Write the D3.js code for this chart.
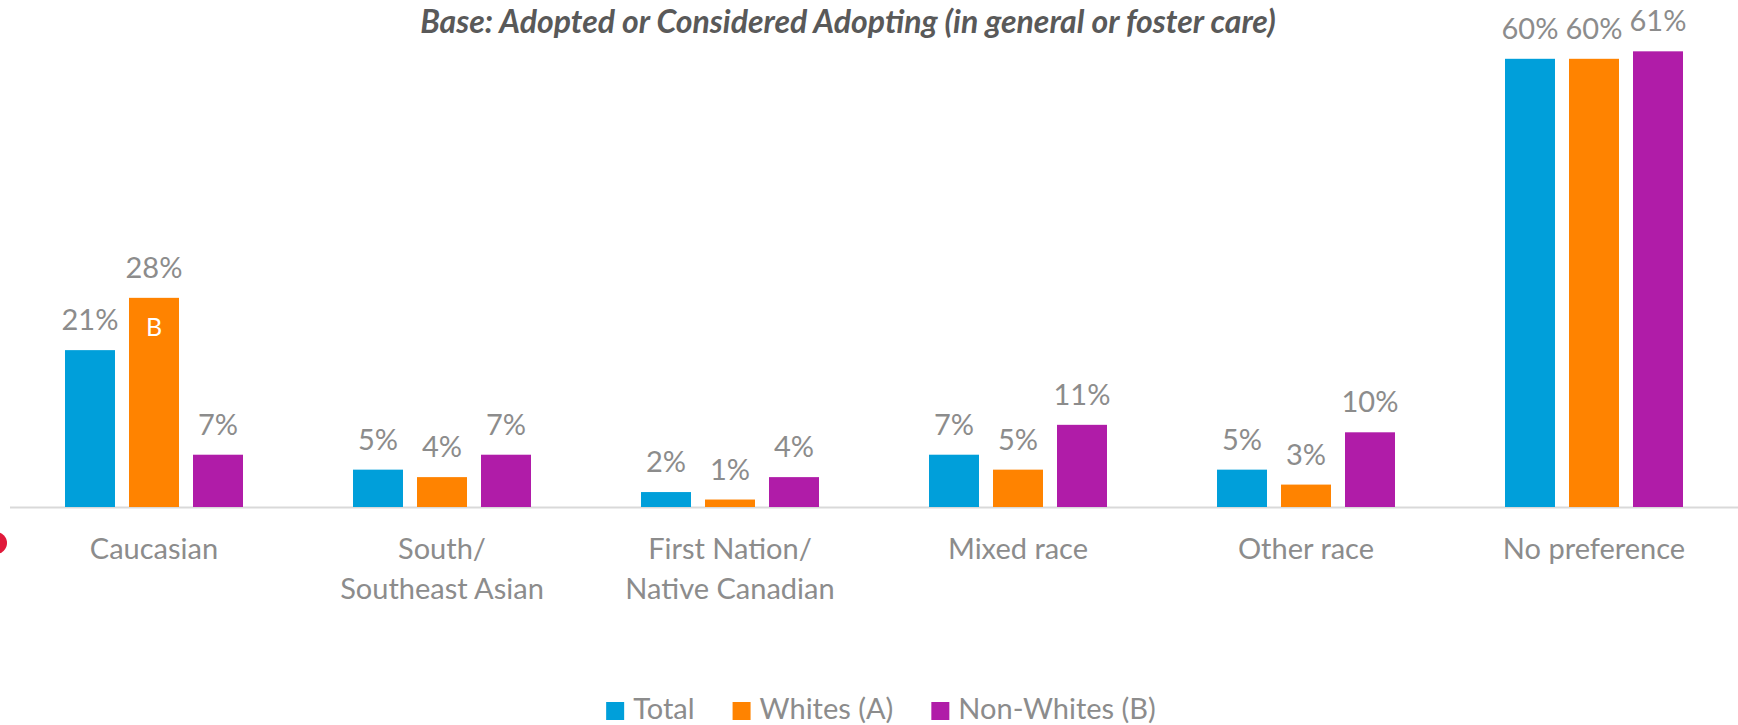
<!DOCTYPE html>
<html>
<head>
<meta charset="utf-8">
<script src="https://cdn.jsdelivr.net/npm/d3@7"></script>
<style>
  html, body { margin: 0; padding: 0; background: #fff; }
  svg { display: block; }
</style>
</head>
<body>
<svg id="chart" width="1738" height="725"></svg>
<script>
const categories = [["Caucasian"], ["South/", "Southeast Asian"], ["First Nation/", "Native Canadian"], ["Mixed race"], ["Other race"], ["No preference"]];
const seriesNames = ["Total", "Whites (A)", "Non-Whites (B)"];
const totalValues = [21, 5, 2, 7, 5, 60];
const whitesValues = [28, 4, 1, 5, 3, 60];
const nonWhitesValues = [7, 7, 4, 11, 10, 61];
const sigLetters = [["", "B", ""], ["", "", ""], ["", "", ""], ["", "", ""], ["", "", ""], ["", "", ""]];
const title = "Base: Adopted or Considered Adopting (in general or foster care)";
const colors = ["#009fda", "#ff8300", "#b01ca8"];

const seriesValues = [totalValues, whitesValues, nonWhitesValues];
const catKeys = categories.map(c => c.join(" "));

const svg = d3.select("#chart");
const baseY = 507;
const font = "Lato, 'Open Sans', sans-serif";
const gray = "#8c8c8c";

const x0 = d3.scaleBand().domain(catKeys).range([10, 1738]).paddingInner(0.382).paddingOuter(0.191);
const x1 = d3.scaleBand().domain(seriesNames).range([0, x0.bandwidth()]).paddingInner(0.219).paddingOuter(0);
const y = d3.scaleLinear().domain([0, 100]).range([baseY, baseY - 747]);

// decorative red dot at left edge
svg.append("circle").attr("cx", -4).attr("cy", 543).attr("r", 11).attr("fill", "#e0193a");

// title
svg.append("text")
  .attr("x", 848).attr("y", 33)
  .attr("text-anchor", "middle")
  .attr("font-family", font)
  .attr("font-weight", "bold")
  .attr("font-style", "italic")
  .attr("font-size", 32)
  .attr("fill", "#595959")
  .text(title);

// axis line
svg.append("line")
  .attr("x1", 10).attr("x2", 1738)
  .attr("y1", baseY + 0.5).attr("y2", baseY + 0.5)
  .attr("stroke", "#d9d9d9").attr("stroke-width", 2);

const groups = svg.selectAll("g.cat").data(catKeys).enter().append("g")
  .attr("class", "cat")
  .attr("transform", d => `translate(${x0(d)},0)`);

groups.each(function(cat, ci) {
  const g = d3.select(this);
  seriesNames.forEach((s, si) => {
    const v = seriesValues[si][ci];
    g.append("rect")
      .attr("x", x1(s)).attr("width", x1.bandwidth())
      .attr("y", y(v)).attr("height", baseY - y(v))
      .attr("fill", colors[si]);
    g.append("text")
      .attr("x", x1(s) + x1.bandwidth() / 2)
      .attr("y", y(v) - 20)
      .attr("text-anchor", "middle")
      .attr("font-family", font)
      .attr("font-size", 29)
      .attr("fill", gray)
      .text(v + "%");
    const sig = sigLetters[ci][si];
    if (sig) {
      g.append("text")
        .attr("x", x1(s) + x1.bandwidth() / 2)
        .attr("y", y(v) + 38)
        .attr("text-anchor", "middle")
        .attr("font-family", font)
        .attr("font-size", 25)
        .attr("fill", "#ffffff")
        .text(sig);
    }
  });
  const lines = categories[ci];
  const t = g.append("text")
    .attr("text-anchor", "middle")
    .attr("font-family", font)
    .attr("font-size", 29)
    .attr("fill", gray);
  lines.forEach((ln, li) => {
    t.append("tspan").attr("x", x0.bandwidth() / 2).attr("y", 559 + li * 40).text(ln);
  });
});

// legend
const legend = svg.append("g");
let lx = 0;
seriesNames.forEach((s, si) => {
  const item = legend.append("g").attr("transform", `translate(${lx},0)`);
  item.append("rect").attr("x", 0).attr("y", 702).attr("width", 18).attr("height", 18).attr("fill", colors[si]);
  const tx = item.append("text").attr("x", 27).attr("y", 719)
    .attr("font-family", font).attr("font-size", 29).attr("fill", gray).text(s);
  lx += 27 + tx.node().getComputedTextLength() + 38;
});
const legendW = lx - 38;
legend.attr("transform", `translate(${881 - legendW / 2},0)`);
</script>
</body>
</html>
